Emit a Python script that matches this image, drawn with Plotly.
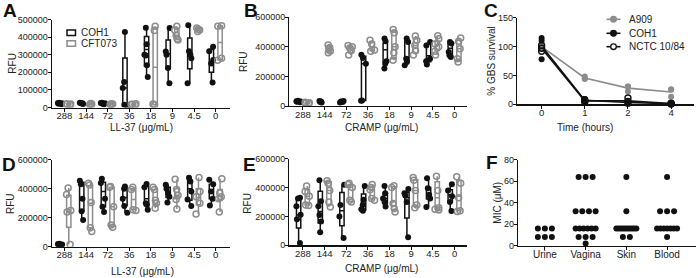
import plotly.graph_objects as go

W, H = 696, 278
BLACK = '#111111'
GRAY = '#8c8c8c'
TXT = '#222222'
FONT = 'Liberation Sans, Arial, Helvetica, sans-serif'

# ---------------- data ----------------
conc_labels = ['288', '144', '72', '36', '18', '9', '4.5', '0']

# Panel A: LL-37, RFU
A_coh1_pts = [
    [19000, 22000, 25000, 27000, 24000],
    [20000, 23000, 26000, 27000, 24000],
    [19000, 22000, 25000, 27000, 24000],
    [10000, 16000, 111000, 145000, 429000],
    [173000, 240000, 296000, 300000, 360000, 453000],
    [138000, 225000, 300000, 318000, 452000],
    [138000, 280000, 300000, 320000, 467000],
    [142000, 250000, 270000, 320000, 345000],
]
A_coh1_q1 = [21000, 22000, 21000, 13000, 236000, 222000, 220000, 200000]
A_coh1_med = [24000, 24000, 24000, 111000, 330000, 305000, 300000, 260000]
A_coh1_q3 = [26000, 26500, 26000, 281000, 404000, 383000, 395000, 330000]

A_cft_pts = [
    [15000, 18000, 20000, 22000],
    [16000, 18000, 21000, 23000],
    [15000, 17000, 20000, 22000],
    [14000, 17000, 19000, 21000],
    [15000, 20000, 438000, 462000],
    [383000, 390000, 410000, 440000, 462000],
    [432000, 440000, 445000, 452000],
    [268000, 280000, 462000, 465000],
]
A_cft_q1 = [16000, 17000, 16000, 15000, 17000, 386000, 436000, 272000]
A_cft_med = [19000, 19500, 18500, 18000, 229000, 410000, 442000, 370000]
A_cft_q3 = [21000, 22000, 21000, 20000, 455000, 450000, 450000, 464000]

# Panel B: CRAMP, RFU
B_coh1_pts = [
    [25000, 28000, 32000, 35000, 30000],
    [24000, 27000, 30000, 33000],
    [23000, 27000, 30000, 33000],
    [35000, 38000, 286000, 325000, 347000],
    [253000, 286000, 302000, 438000, 456000],
    [275000, 298000, 320000, 433000, 456000],
    [280000, 302000, 320000, 410000, 433000],
    [331000, 343000, 365000, 422000, 433000],
]
B_coh1_q1 = [27000, 26000, 25000, 36500, 298000, 298000, 300000, 340000]
B_coh1_med = [30000, 28500, 28500, 286000, 380000, 330000, 340000, 390000]
B_coh1_q3 = [33000, 31000, 31000, 336000, 425000, 444000, 422000, 425000]

B_cft_pts = [
    [15000, 18000, 22000, 25000],
    [360000, 372000, 385000, 395000, 412000],
    [345000, 375000, 392000, 400000, 410000],
    [370000, 378000, 420000, 445000],
    [310000, 360000, 400000, 495000, 518000],
    [345000, 375000, 410000, 445000, 474000],
    [345000, 370000, 400000, 420000, 455000, 475000],
    [298000, 320000, 388000, 438000, 460000],
]
B_cft_q1 = [16500, 366000, 360000, 374000, 320000, 358000, 375000, 310000]
B_cft_med = [20000, 385000, 392000, 399000, 400000, 410000, 410000, 388000]
B_cft_q3 = [23500, 403000, 405000, 433000, 500000, 458000, 440000, 445000]

# Panel C: % GBS survival over time
time_labels = ['0', '1', '2', '4']
C_a909 = [[100, 104, 96], [48, 44, 45], [31, 22, 31], [26, 25, 13]]
C_coh1 = [[115, 110, 78], [9, 7, 5], [4, 3, 2], [1, 0.5, 1.5]]
C_nctc = [[92, 97, 102], [6, 8, 4], [11, 5, 2], [0.5, 1, 2]]

# Panel D: LL-37, RFU
D_coh1_pts = [
    [12000, 14000, 16000, 18000, 20000],
    [185000, 245000, 330000, 430000, 455000],
    [240000, 275000, 330000, 440000, 468000],
    [235000, 280000, 330000, 400000, 415000],
    [255000, 290000, 300000, 410000, 432000],
    [305000, 345000, 370000, 400000, 427000],
    [280000, 325000, 380000, 450000, 475000],
    [285000, 330000, 380000, 430000, 461000],
]
D_coh1_q1 = [13000, 250000, 275000, 285000, 285000, 340000, 320000, 330000]
D_coh1_med = [16000, 320000, 380000, 340000, 330000, 370000, 400000, 380000]
D_coh1_q3 = [19000, 445000, 445000, 405000, 415000, 410000, 460000, 430000]

D_cft_pts = [
    [16000, 240000, 250000, 360000, 404000],
    [105000, 130000, 305000, 425000, 438000],
    [135000, 150000, 275000, 410000, 415000],
    [250000, 255000, 395000, 410000],
    [265000, 300000, 320000, 395000, 410000],
    [260000, 325000, 355000, 395000, 465000],
    [225000, 300000, 345000, 380000, 478000],
    [240000, 330000, 345000, 370000, 468000],
]
D_cft_q1 = [135000, 130000, 142000, 255000, 290000, 330000, 290000, 320000]
D_cft_med = [240000, 300000, 275000, 325000, 320000, 355000, 340000, 350000]
D_cft_q3 = [355000, 420000, 410000, 400000, 395000, 400000, 400000, 395000]

# Panel E: CRAMP, RFU
E_coh1_pts = [
    [16000, 180000, 212000, 270000, 325000, 330000],
    [90000, 165000, 210000, 270000, 305000, 450000],
    [50000, 200000, 280000, 420000],
    [240000, 250000, 280000, 315000, 410000],
    [268000, 300000, 325000, 360000, 410000],
    [55000, 300000, 345000, 360000, 390000],
    [265000, 325000, 350000, 395000, 465000],
    [238000, 300000, 340000, 380000, 423000],
]
E_coh1_q1 = [120000, 155000, 135000, 245000, 290000, 190000, 320000, 300000]
E_coh1_med = [210000, 235000, 240000, 280000, 325000, 330000, 350000, 350000]
E_coh1_q3 = [325000, 375000, 365000, 355000, 360000, 365000, 400000, 385000]

E_cft_pts = [
    [275000, 280000, 340000, 372000, 410000],
    [265000, 300000, 380000, 430000, 448000],
    [300000, 312000, 400000, 422000, 430000],
    [312000, 325000, 385000, 400000, 422000],
    [230000, 255000, 290000, 400000, 412000],
    [260000, 280000, 380000, 450000, 470000],
    [245000, 250000, 260000, 380000, 478000],
    [235000, 240000, 330000, 430000, 475000],
]
E_cft_q1 = [280000, 280000, 305000, 320000, 245000, 270000, 250000, 240000]
E_cft_med = [340000, 380000, 400000, 385000, 300000, 380000, 330000, 340000]
E_cft_q3 = [385000, 440000, 422000, 405000, 405000, 455000, 440000, 450000]

# Panel F: MIC (uM) per isolate source
F_sources = ['Urine', 'Vagina', 'Skin', 'Blood']
F_urine = [8, 8, 8, 16, 16, 16]
F_vagina = [2, 8, 8, 8, 16, 16, 16, 16, 16, 16, 32, 32, 32, 32, 64, 64, 64]
F_skin = [8, 8, 16, 16, 16, 16, 16, 16, 16, 16, 16, 16, 32, 64]
F_blood = [8, 16, 16, 16, 16, 16, 16, 16, 32, 32, 32, 64]

# ---------------- figure ----------------
fig = go.Figure()


def px(x):
    return x / W


def py(y):
    return 1 - y / H


def axn(n):
    return ('x' if n == 1 else f'x{n}', 'y' if n == 1 else f'y{n}')


def add_box(n, pts, q1, med, q3, color, off):
    xa, ya = axn(n)
    pos = [i + off for i in range(len(pts))]
    fig.add_trace(go.Box(
        x=pos, q1=q1, median=med, q3=q3,
        lowerfence=[min(p) for p in pts], upperfence=[max(p) for p in pts],
        width=0.2, whiskerwidth=0, fillcolor='white', boxpoints=False,
        line=dict(color=color, width=1.5), xaxis=xa, yaxis=ya,
        hoverinfo='skip', showlegend=False))


def add_pts(n, pts, color, off, hollow):
    xa, ya = axn(n)
    xs = [i + off for i, p in enumerate(pts) for _ in p]
    ys = [v for p in pts for v in p]
    if hollow:
        mk = dict(symbol='circle-open', color=color, size=6,
                  line=dict(width=1.5, color=color))
    else:
        mk = dict(symbol='circle', color=color, size=6, line=dict(width=0))
    fig.add_trace(go.Box(
        x=xs, y=ys, boxpoints='all', jitter=0.8, pointpos=0, width=0.3,
        fillcolor='rgba(0,0,0,0)', line=dict(width=0, color='rgba(0,0,0,0)'),
        marker=mk, xaxis=xa, yaxis=ya, hoverinfo='skip', showlegend=False))


OFF = 0.2
for n, (cp, cq1, cm, cq3, gp, gq1, gm, gq3) in {
    1: (A_coh1_pts, A_coh1_q1, A_coh1_med, A_coh1_q3, A_cft_pts, A_cft_q1, A_cft_med, A_cft_q3),
    2: (B_coh1_pts, B_coh1_q1, B_coh1_med, B_coh1_q3, B_cft_pts, B_cft_q1, B_cft_med, B_cft_q3),
    4: (D_coh1_pts, D_coh1_q1, D_coh1_med, D_coh1_q3, D_cft_pts, D_cft_q1, D_cft_med, D_cft_q3),
    5: (E_coh1_pts, E_coh1_q1, E_coh1_med, E_coh1_q3, E_cft_pts, E_cft_q1, E_cft_med, E_cft_q3),
}.items():
    add_box(n, cp, cq1, cm, cq3, BLACK, -OFF)
    add_box(n, gp, gq1, gm, gq3, GRAY, OFF)
    add_pts(n, cp, BLACK, -OFF, False)
    add_pts(n, gp, GRAY, OFF, True)

# Panel C
tx = list(range(len(time_labels)))
series_C = [(C_a909, GRAY, 'circle'), (C_coh1, BLACK, 'circle'),
            (C_nctc, BLACK, 'circle-open')]
for reps, color, sym in series_C:
    means = [sum(r) / len(r) for r in reps]
    fig.add_trace(go.Scatter(x=tx, y=means, mode='lines',
                             line=dict(color=color, width=1.6),
                             xaxis='x3', yaxis='y3', showlegend=False,
                             hoverinfo='skip', cliponaxis=False))
for reps, color, sym in series_C:
    xs = [t for t, r in zip(tx, reps) for _ in r]
    ys = [v for r in reps for v in r]
    mk = dict(symbol=sym, color=color, size=6,
              line=dict(width=1.4 if 'open' in sym else 0, color=color))
    fig.add_trace(go.Scatter(x=xs, y=ys, mode='markers', marker=mk,
                             xaxis='x3', yaxis='y3', showlegend=False,
                             hoverinfo='skip', cliponaxis=False))

# Panel F: centered rows per value
F_px_per_unit = 40.7
step_nom = 7 / F_px_per_unit
span_max = 20 / F_px_per_unit
fx, fy = [], []
for ci, vals in enumerate([F_urine, F_vagina, F_skin, F_blood]):
    for v in sorted(set(vals)):
        k = vals.count(v)
        step = step_nom if k < 2 else min(step_nom, span_max / (k - 1))
        for j in range(k):
            fx.append(ci + (j - (k - 1) / 2) * step)
            fy.append(v)
fig.add_trace(go.Scatter(x=fx, y=fy, mode='markers',
                         marker=dict(color=BLACK, size=6),
                         xaxis='x6', yaxis='y6', showlegend=False,
                         hoverinfo='skip', cliponaxis=False))


# ---------------- axes ----------------
def xcfg(dom, rng, vals, text, anchor, fs=9.5):
    return dict(domain=dom, range=rng, tickmode='array', tickvals=vals,
                ticktext=text, showline=True, linecolor=BLACK, linewidth=1.2,
                ticks='outside', ticklen=3, tickwidth=1, tickcolor=BLACK,
                showgrid=False, zeroline=False, anchor=anchor, automargin=False,
                ticklabelstandoff=-4,
                tickfont=dict(size=fs, color=TXT, family=FONT))


def ycfg(dom, rng, vals, anchor, fs=9):
    return dict(domain=dom, range=rng, tickmode='array', tickvals=vals,
                tickformat='d', showline=True, linecolor=BLACK, linewidth=1.2,
                ticks='outside', ticklen=3, tickwidth=1, tickcolor=BLACK,
                showgrid=False, zeroline=False, anchor=anchor, automargin=False,
                ticklabelstandoff=-2,
                tickfont=dict(size=fs, color=TXT, family=FONT))


ci8 = list(range(len(conc_labels)))
rfu5 = [0, 100000, 200000, 300000, 400000, 500000]
rfu6 = [0, 200000, 400000, 600000]

fig.update_layout(
    xaxis=xcfg([px(51.7), px(230)], [-0.59, 7.66], ci8, conc_labels, 'y'),
    yaxis=ycfg([py(107.5), py(19.5)], [0, 500000], rfu5, 'x'),
    xaxis2=xcfg([px(289.3), px(466.7)], [-0.63, 7.56], ci8, conc_labels, 'y2'),
    yaxis2=ycfg([py(106), py(17.3)], [0, 600000], rfu6, 'x2'),
    xaxis3=xcfg([px(517), px(694)], [-0.57, 3.53], tx, time_labels, 'y3'),
    yaxis3=ycfg([py(104.3), py(17.7)], [0, 150], [0, 50, 100, 150], 'x3'),
    xaxis4=xcfg([px(51.7), px(230)], [-0.59, 7.66], ci8, conc_labels, 'y4'),
    yaxis4=ycfg([py(246.7), py(159.7)], [0, 600000], rfu6, 'x4'),
    xaxis5=xcfg([px(289.3), px(466.7)], [-0.63, 7.56], ci8, conc_labels, 'y5'),
    yaxis5=ycfg([py(245.3), py(158.7)], [0, 600000], rfu6, 'x5'),
    xaxis6=xcfg([px(518), px(696)], [-0.66, 3.71], list(range(4)), F_sources, 'y6', fs=10),
    yaxis6=ycfg([py(245.7), py(159.7)], [0, 80], [0, 20, 40, 60, 80], 'x6'),
)

# ---------------- annotations ----------------
ann = []


def text(x, y, s, size=10, angle=0, xanchor='center', bold=False):
    ann.append(dict(x=px(x), y=py(y), xref='paper', yref='paper',
                    text=f'<b>{s}</b>' if bold else s, showarrow=False,
                    textangle=angle, xanchor=xanchor, yanchor='middle',
                    font=dict(size=size, color=BLACK if bold else TXT, family=FONT)))


# panel letters
for lab, x, y in [('A', 1, 10.5), ('B', 242, 10.5), ('C', 482, 10.5),
                  ('D', 0, 164), ('E', 241, 164), ('F', 484, 162)]:
    text(x, y, lab, size=19, xanchor='left', bold=True)

# axis titles
text(11.7, 63, 'RFU', angle=-90)
text(141, 127, 'LL-37 (μg/mL)')
text(243.3, 61.7, 'RFU', angle=-90)
text(381, 127, 'CRAMP (μg/mL)')
text(491.7, 61, '% GBS survival', angle=-90)
text(585, 127, 'Time (hours)')
text(10, 204, 'RFU', angle=-90)
text(142, 271, 'LL-37 (μg/mL)')
text(246.7, 203, 'RFU', angle=-90)
text(381, 268, 'CRAMP (μg/mL)')
text(496.7, 203, 'MIC (μM)', angle=-90)

# legend A
shapes = []
for (lab, col, yc) in [('COH1', BLACK, 32.7), ('CFT073', GRAY, 43.5)]:
    shapes.append(dict(type='rect', xref='paper', yref='paper',
                       x0=px(67), x1=px(75.5), y0=py(yc + 2.7), y1=py(yc - 2.7),
                       line=dict(color=col, width=1.5), fillcolor='white'))
    text(79, yc, lab, xanchor='left')

# legend C
for (lab, col, fill, yc) in [('A909', GRAY, GRAY, 19.3), ('COH1', BLACK, BLACK, 33.3),
                             ('NCTC 10/84', BLACK, 'white', 46.7)]:
    shapes.append(dict(type='line', xref='paper', yref='paper',
                       x0=px(606.5), x1=px(620.5), y0=py(yc), y1=py(yc),
                       line=dict(color=col, width=1.6)))
    shapes.append(dict(type='circle', xref='paper', yref='paper',
                       x0=px(613.5 - 2.8), x1=px(613.5 + 2.8),
                       y0=py(yc + 2.8), y1=py(yc - 2.8),
                       line=dict(color=col, width=1.3), fillcolor=fill))
    text(626.7, yc, lab, xanchor='left')

fig.update_layout(
    width=W, height=H, margin=dict(l=0, r=0, t=0, b=0, autoexpand=False),
    paper_bgcolor='white', plot_bgcolor='white', showlegend=False,
    boxmode='overlay', annotations=ann, shapes=shapes,
    font=dict(family=FONT, color=TXT),
)

fig.write_html('out.html',
               config={'displayModeBar': False, 'staticPlot': True},
               post_script="document.body.style.margin='0';document.body.style.padding='0';")
